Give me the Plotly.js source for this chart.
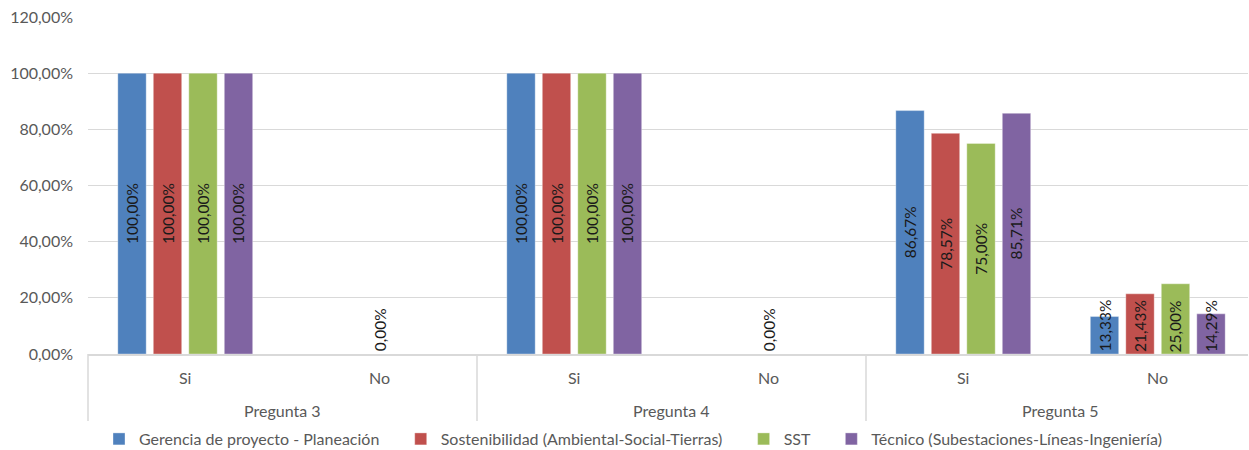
<!DOCTYPE html>
<html>
<head>
<meta charset="utf-8">
<script src="https://cdn.plot.ly/plotly-3.0.1.min.js"></script>
<style>
  html, body { margin: 0; padding: 0; background: #fff; }
  #chart { width: 1249px; height: 450px; }
</style>
</head>
<body>
<div id="chart"></div>
<script>
// Questions (outer level) and answers (inner level) of the category axis
const preguntas = ["Pregunta 3", "Pregunta 3", "Pregunta 4", "Pregunta 4", "Pregunta 5", "Pregunta 5"];
const respuestas = ["Si", "No", "Si", "No", "Si", "No"];

// Share of answers per area
const gerencia       = [1.0, 0, 1.0, 0, 0.8667, 0.1333];
const sostenibilidad = [1.0, 0, 1.0, 0, 0.7857, 0.2143];
const sst            = [1.0, 0, 1.0, 0, 0.75,   0.25];
const tecnico        = [1.0, 0, 1.0, 0, 0.8571, 0.1429];

const seriesNames = [
  "Gerencia de proyecto - Planeación",
  "Sostenibilidad (Ambiental-Social-Tierras)",
  "SST",
  "Técnico (Subestaciones-Líneas-Ingeniería)"
];
const seriesColors = ["#4f81bd", "#c0504d", "#9bbb59", "#8064a2"];
const seriesValues = [gerencia, sostenibilidad, sst, tecnico];

// Answers where no area had any response get a single centred label
const zeroLabelIdx = [1, 3];

const FONT = "Lato, 'Open Sans', sans-serif";
const TEXT_GREY = "#595959";
const LINE_GREY = "#d9d9d9";
const fmt = v => (v * 100).toFixed(2).replace(".", ",") + "%";

const W = 1249, H = 450;
const margin = { l: 88, r: 1, t: 17, b: 96, autoexpand: false };
const plotW = W - margin.l - margin.r;
const plotH = H - margin.t - margin.b;
const nCats = respuestas.length;

// Each answer slot is a little wider than plotW / nCats, so the last one runs past the edge
const catW = 194.5;
const xRange = [-0.5, -0.5 + plotW / catW];
const xPaper = i => (i - xRange[0]) / (xRange[1] - xRange[0]);
const yPaperPx = px => -px / plotH;   // pixels below the plot bottom -> paper units

const bargap = 0.27;
const slot = catW * (1 - bargap) / seriesValues.length;

// Labels that would not fit inside short bars are drawn from the bar base
const SMALL = 0.3;
const labelFont = { family: FONT, size: 15.5, color: "#1a1a1a" };

// extra room after each legend entry except the last
const legendPad = "\u00a0".repeat(4);

const traces = seriesValues.map((vals, s) => ({
  type: "bar",
  name: seriesNames[s] + (s < seriesValues.length - 1 ? legendPad : ""),
  x: [preguntas, respuestas],
  y: vals,
  marker: { color: seriesColors[s], line: { color: "rgba(255,255,255,0.35)", width: 1 } },
  text: vals.map(v => (v >= SMALL ? fmt(v) : "")),
  textposition: "inside",
  textangle: -90,
  insidetextanchor: "middle",
  constraintext: "none",
  textfont: labelFont,
  hoverinfo: "name+y"
}));

const annotations = [];
seriesValues.forEach((vals, s) => {
  vals.forEach((v, i) => {
    if (v > 0 && v < SMALL) {
      annotations.push({
        xref: "paper", yref: "y",
        x: xPaper(i), y: 0,
        xshift: (s - (seriesValues.length - 1) / 2) * slot,
        xanchor: "center", yanchor: "bottom",
        text: fmt(v), textangle: -90, showarrow: false,
        font: labelFont
      });
    }
  });
});
zeroLabelIdx.forEach(i => {
  annotations.push({
    xref: "paper", yref: "y",
    x: xPaper(i), y: 0,
    xanchor: "center", yanchor: "bottom", yshift: 1,
    text: fmt(0), textangle: -90, showarrow: false,
    font: labelFont
  });
});

// Category axis labels: answers, then questions centred under their pair
const axisFont = { family: FONT, size: 16, color: TEXT_GREY };
respuestas.forEach((r, i) => {
  annotations.push({
    xref: "paper", yref: "paper",
    x: xPaper(i), y: yPaperPx(23),
    xanchor: "center", yanchor: "middle",
    text: r, showarrow: false, font: axisFont
  });
});
const shapes = [];
const groups = [];
preguntas.forEach((p, i) => {
  const g = groups.find(gr => gr.name === p);
  if (g) g.last = i; else groups.push({ name: p, first: i, last: i });
});
groups.forEach(g => {
  annotations.push({
    xref: "paper", yref: "paper",
    x: (xPaper(g.first) + xPaper(g.last)) / 2, y: yPaperPx(56),
    xanchor: "center", yanchor: "middle",
    text: g.name, showarrow: false, font: axisFont
  });
  // divider at the left edge of each question group
  const xl = xPaper(g.first - 0.5);
  shapes.push({
    type: "line", xref: "paper", yref: "paper",
    x0: xl, x1: xl, y0: 0, y1: yPaperPx(67),
    line: { color: LINE_GREY, width: 1.5 }
  });
});

const layout = {
  width: W, height: H,
  margin: margin,
  paper_bgcolor: "#fff",
  plot_bgcolor: "#fff",
  separators: ",.",
  barmode: "group",
  bargap: bargap,
  bargroupgap: 0.2,
  font: { family: FONT, color: TEXT_GREY, size: 16 },
  xaxis: {
    type: "multicategory",
    range: xRange,
    showline: true, linecolor: LINE_GREY, linewidth: 1.5,
    showticklabels: false, showdividers: false,
    ticks: "", showgrid: false, automargin: false
  },
  yaxis: {
    range: [0, 1.2], dtick: 0.2, tickformat: ".2%",
    showgrid: true, gridcolor: LINE_GREY, gridwidth: 1,
    zeroline: false, showline: false, ticks: "",
    ticklabelstandoff: 14,
    tickfont: { family: FONT, size: 16, color: TEXT_GREY },
    automargin: false
  },
  legend: {
    orientation: "h",
    xref: "container", x: 99 / W, xanchor: "left",
    yref: "container", y: 11 / H, yanchor: "middle",
    font: { family: FONT, size: 16, color: TEXT_GREY },
    itemwidth: 30
  },
  annotations: annotations,
  shapes: shapes,
  showlegend: true
};

Plotly.newPlot("chart", traces, layout, { displayModeBar: false, staticPlot: true });
</script>
</body>
</html>
